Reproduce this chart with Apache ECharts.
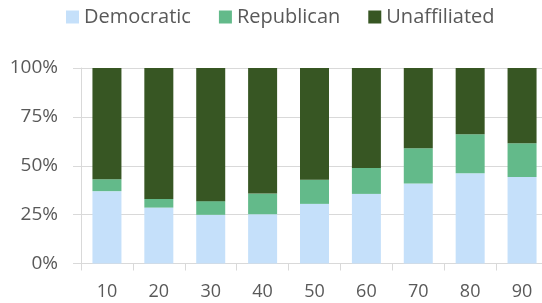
<!DOCTYPE html>
<html>
<head>
<meta charset="utf-8">
<script src="https://cdn.jsdelivr.net/npm/echarts@6/dist/echarts.min.js"></script>
<style>
  html, body { margin: 0; padding: 0; background: #fff; }
  #chart { width: 542px; height: 303px; }
</style>
</head>
<body>
<div id="chart"></div>
<script>
const categories = ['10', '20', '30', '40', '50', '60', '70', '80', '90']
const democratic = [37.0, 28.6, 24.9, 25.2, 30.5, 35.6, 40.9, 46.2, 44.3]
const republican = [6.1, 4.4, 7.0, 10.6, 12.4, 13.3, 18.0, 19.9, 17.2]
const unaffiliated = [56.9, 67.0, 68.1, 64.2, 57.1, 51.1, 41.1, 33.9, 38.5]
const yTicks = [0, 25, 50, 75, 100]

const myChart = echarts.init(document.getElementById('chart'), null, { renderer: 'canvas' })
const font = 'Open Sans'
const textColor = '#595959'
const lineColor = '#D9D9D9'

myChart.setOption({
  animation: false,
  legend: {
    top: 2,
    left: 61,
    itemWidth: 13,
    itemHeight: 13,
    itemGap: 28,
    icon: 'rect',
    textStyle: { color: textColor, fontSize: 20, fontFamily: font },
    data: ['Democratic', 'Republican', 'Unaffiliated']
  },
  // plot spans past the right edge, like the cropped original
  grid: { left: 81, width: 467, top: 68, height: 195.5, outerBoundsMode: 'none', containLabel: false },
  xAxis: {
    type: 'category',
    data: categories,
    axisLine: { lineStyle: { color: lineColor, width: 1 } },
    axisTick: { show: true, length: 7, lineStyle: { color: lineColor } },
    axisLabel: { color: textColor, fontSize: 18, fontFamily: font, margin: 19 }
  },
  yAxis: {
    type: 'value',
    min: yTicks[0],
    max: yTicks[yTicks.length - 1],
    interval: 25,
    axisLine: { show: true, lineStyle: { color: lineColor, width: 1 } },
    axisTick: { show: true, length: 8, lineStyle: { color: lineColor } },
    splitLine: { lineStyle: { color: lineColor, width: 1 } },
    axisLabel: { color: textColor, fontSize: 19, fontFamily: font, margin: 23, formatter: '{value}%' }
  },
  series: [
    {
      name: 'Democratic',
      type: 'bar',
      stack: 'total',
      barWidth: 29,
      itemStyle: { color: '#C5E0FA' },
      data: democratic
    },
    {
      name: 'Republican',
      type: 'bar',
      stack: 'total',
      barWidth: 29,
      itemStyle: { color: '#63BA8A' },
      data: republican
    },
    {
      name: 'Unaffiliated',
      type: 'bar',
      stack: 'total',
      barWidth: 29,
      itemStyle: { color: '#375623' },
      data: unaffiliated
    }
  ]
})
</script>
</body>
</html>
